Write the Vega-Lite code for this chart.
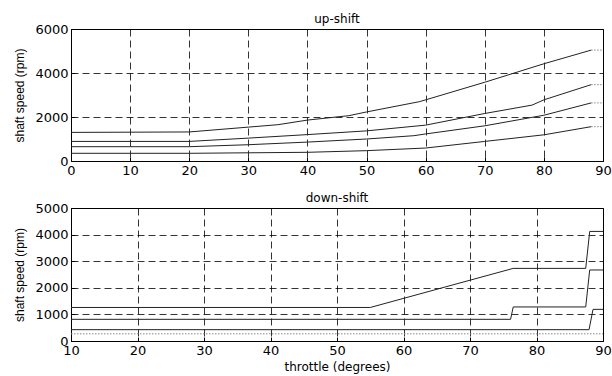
{
  "$schema": "https://vega.github.io/schema/vega-lite/v6.json",
  "autosize": "pad",
  "padding": {"left": 13, "top": 12, "right": 5, "bottom": 5},
  "background": "white",
  "spacing": 47,
  "bounds": "flush",
  "config": {
    "font": "DejaVu Sans",
    "view": {"stroke": "black", "strokeWidth": 1},
    "axis": {
      "domainColor": "black",
      "tickColor": "black",
      "tickSize": -4,
      "labelColor": "black",
      "labelFontSize": 13,
      "labelFont": "DejaVu Sans",
      "labelFlush": false,
      "labelOverlap": false,
      "titleColor": "black",
      "titleFontSize": 12,
      "titleFontWeight": "normal",
      "titleFont": "DejaVu Sans",
      "grid": true,
      "gridColor": "black",
      "gridOpacity": 1,
      "gridDash": [7, 4],
      "gridWidth": 0.8,
      "labelPadding": 7,
      "format": "d"
    },
    "title": {"fontSize": 12, "fontWeight": "normal", "color": "black", "font": "DejaVu Sans", "offset": -3}
  },
  "datasets": {
    "up": [
      {"s": "a", "x": 0, "y": 1300}, {"s": "a", "x": 20, "y": 1320}, {"s": "a", "x": 30, "y": 1540}, {"s": "a", "x": 35, "y": 1650}, {"s": "a", "x": 40, "y": 1860}, {"s": "a", "x": 47, "y": 2060}, {"s": "a", "x": 50, "y": 2230}, {"s": "a", "x": 59, "y": 2700}, {"s": "a", "x": 70, "y": 3580}, {"s": "a", "x": 80, "y": 4420}, {"s": "a", "x": 88, "y": 5040}, {"s": "a", "x": 90, "y": 5040},
      {"s": "b", "x": 0, "y": 890}, {"s": "b", "x": 20, "y": 890}, {"s": "b", "x": 30, "y": 1040}, {"s": "b", "x": 40, "y": 1200}, {"s": "b", "x": 50, "y": 1370}, {"s": "b", "x": 60, "y": 1630}, {"s": "b", "x": 70, "y": 2160}, {"s": "b", "x": 78, "y": 2540}, {"s": "b", "x": 80, "y": 2780}, {"s": "b", "x": 88, "y": 3470}, {"s": "b", "x": 90, "y": 3470},
      {"s": "c", "x": 0, "y": 650}, {"s": "c", "x": 20, "y": 650}, {"s": "c", "x": 30, "y": 740}, {"s": "c", "x": 40, "y": 860}, {"s": "c", "x": 50, "y": 1000}, {"s": "c", "x": 58, "y": 1150}, {"s": "c", "x": 60, "y": 1230}, {"s": "c", "x": 70, "y": 1600}, {"s": "c", "x": 80, "y": 2080}, {"s": "c", "x": 88, "y": 2640}, {"s": "c", "x": 90, "y": 2640},
      {"s": "d", "x": 0, "y": 350}, {"s": "d", "x": 20, "y": 350}, {"s": "d", "x": 40, "y": 395}, {"s": "d", "x": 50, "y": 470}, {"s": "d", "x": 60, "y": 590}, {"s": "d", "x": 70, "y": 890}, {"s": "d", "x": 80, "y": 1190}, {"s": "d", "x": 88, "y": 1560}, {"s": "d", "x": 90, "y": 1560}
    ],
    "down": [
      {"s": "a", "x": 10, "y": 1260}, {"s": "a", "x": 55, "y": 1260}, {"s": "a", "x": 76.5, "y": 2730}, {"s": "a", "x": 87.4, "y": 2730}, {"s": "a", "x": 88, "y": 4120}, {"s": "a", "x": 90, "y": 4120},
      {"s": "b", "x": 10, "y": 815}, {"s": "b", "x": 76.1, "y": 815}, {"s": "b", "x": 76.5, "y": 1280}, {"s": "b", "x": 87.4, "y": 1280}, {"s": "b", "x": 88, "y": 2670}, {"s": "b", "x": 90, "y": 2670},
      {"s": "c", "x": 10, "y": 426}, {"s": "c", "x": 87.9, "y": 426}, {"s": "c", "x": 88.5, "y": 1190}, {"s": "c", "x": 90, "y": 1190},
      {"s": "d", "x": 10, "y": 270}, {"s": "d", "x": 90, "y": 270}
    ]
  },
  "vconcat": [
    {
      "width": 532,
      "height": 132,
      "title": "up-shift",
      "data": {"name": "up"},
      "encoding": {
        "x": {"field": "x", "type": "quantitative", "scale": {"domain": [0, 90], "nice": false}, "axis": {"values": [0, 10, 20, 30, 40, 50, 60, 70, 80, 90], "title": null}},
        "y": {"field": "y", "type": "quantitative", "scale": {"domain": [0, 6000], "nice": false}, "axis": {"values": [0, 2000, 4000, 6000], "title": "shaft speed (rpm)", "titleFont": "Liberation Sans", "titlePadding": 8}},
        "detail": {"field": "s"}
      },
      "layer": [
        {"transform": [{"filter": "datum.x <= 88"}], "mark": {"type": "line", "color": "#222", "strokeWidth": 1}},
        {"transform": [{"filter": "datum.x >= 88"}], "mark": {"type": "line", "color": "#888", "strokeWidth": 1, "strokeDash": [1.5, 1.5]}}
      ]
    },
    {
      "width": 532,
      "height": 133,
      "title": "down-shift",
      "data": {"name": "down"},
      "encoding": {
        "x": {"field": "x", "type": "quantitative", "scale": {"domain": [10, 90], "nice": false}, "axis": {"values": [10, 20, 30, 40, 50, 60, 70, 80, 90], "title": "throttle (degrees)", "titlePadding": 4}},
        "y": {"field": "y", "type": "quantitative", "scale": {"domain": [0, 5000], "nice": false}, "axis": {"values": [0, 1000, 2000, 3000, 4000, 5000], "title": "shaft speed (rpm)", "titleFont": "Liberation Sans", "titlePadding": 8}},
        "detail": {"field": "s"}
      },
      "layer": [
        {"transform": [{"filter": "datum.s != 'd'"}], "mark": {"type": "line", "color": "#222", "strokeWidth": 1}},
        {"transform": [{"filter": "datum.s == 'd'"}], "mark": {"type": "line", "color": "#888", "strokeWidth": 1, "strokeDash": [1.5, 1.5]}}
      ]
    }
  ]
}
